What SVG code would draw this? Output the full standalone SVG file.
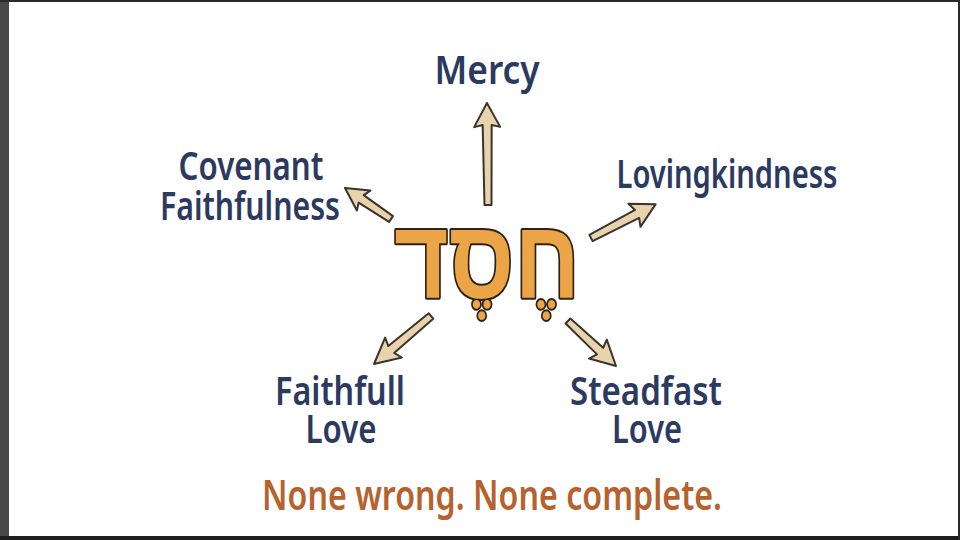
<svg xmlns="http://www.w3.org/2000/svg" width="960" height="540" viewBox="0 0 960 540">
<style>
.lbl{font-family:"Noto Sans","DejaVu Sans",sans-serif;font-weight:600;font-size:40px;fill:#2B3A5E;text-anchor:middle}
.tag{font-family:"Noto Sans","DejaVu Sans",sans-serif;font-weight:600;font-size:42px;fill:#B5622F;text-anchor:middle}
.arr{fill:#E8D3AC;stroke:#3A342C;stroke-width:2;stroke-linejoin:round}
.heb{font-family:"Liberation Sans","Noto Sans",sans-serif;font-weight:bold;font-size:112px;fill:#EBA446;stroke:#2C2218;stroke-width:4;paint-order:stroke;stroke-linejoin:round;text-anchor:middle}
</style>
<rect x="0" y="0" width="960" height="540" fill="#ffffff"/>
<rect x="0" y="0" width="9" height="540" fill="#484848"/>
<rect x="0" y="0" width="960" height="2" fill="#2a2a2a"/>
<rect x="0" y="536" width="960" height="4" fill="#1e1e1e"/>
<rect x="958" y="0" width="2" height="540" fill="#2a2a2a"/>

<g id="connectors">
<path class="arr" transform="translate(488,205) rotate(-90.6)" d="M0,-3.5 L80,-4.5 L78,-13 L102,0 L78,13 L80,4.5 L0,3.5 Z"/>
<path class="arr" transform="translate(391,219) rotate(-146)" d="M0,-3.5 L36,-4.5 L33,-12 L55.5,0 L33,12 L36,4.5 L0,3.5 Z"/>
<path class="arr" transform="translate(591,238) rotate(-27.6)" d="M0,-3.5 L52,-4.5 L49,-13 L73,0 L49,13 L52,4.5 L0,3.5 Z"/>
<path class="arr" transform="translate(431,316) rotate(139.9)" d="M0,-3.5 L52,-4.5 L49,-13 L74.5,0 L49,13 L52,4.5 L0,3.5 Z"/>
<path class="arr" transform="translate(568,321) rotate(43.2)" d="M0,-3.5 L44,-4.5 L41,-13 L65.8,0 L41,13 L44,4.5 L0,3.5 Z"/>
</g>

<g id="hesed">
<text class="heb" x="487" y="298" textLength="186" lengthAdjust="spacingAndGlyphs">חֶסֶד</text>
</g>

<g id="mercy">
<text class="lbl" x="487" y="84" textLength="105" lengthAdjust="spacingAndGlyphs">Mercy</text>
</g>
<g id="covenant">
<text class="lbl" x="251" y="180" textLength="145" lengthAdjust="spacingAndGlyphs">Covenant</text>
<text class="lbl" x="250" y="220" textLength="180" lengthAdjust="spacingAndGlyphs">Faithfulness</text>
</g>
<g id="lovingkindness">
<text class="lbl" x="727" y="188" textLength="221" lengthAdjust="spacingAndGlyphs">Lovingkindness</text>
</g>
<g id="faithfull">
<text class="lbl" x="340" y="405" textLength="130" lengthAdjust="spacingAndGlyphs">Faithfull</text>
<text class="lbl" x="341" y="443" textLength="71" lengthAdjust="spacingAndGlyphs">Love</text>
</g>
<g id="steadfast">
<text class="lbl" x="646" y="405" textLength="152" lengthAdjust="spacingAndGlyphs">Steadfast</text>
<text class="lbl" x="647" y="443" textLength="70" lengthAdjust="spacingAndGlyphs">Love</text>
</g>
<g id="tagline">
<text class="tag" x="492" y="510" textLength="460" lengthAdjust="spacingAndGlyphs">None wrong. None complete.</text>
</g>
</svg>
